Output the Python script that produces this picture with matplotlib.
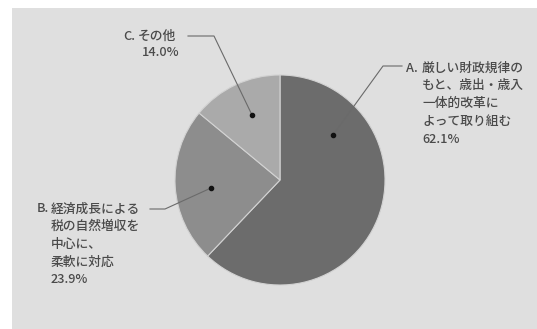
# Pie chart of the policy-stance survey result

import matplotlib.pyplot as plt
from matplotlib.patches import Rectangle

plt.rcParams['font.family'] = ['Noto Sans CJK JP', 'DejaVu Sans']

# Survey shares (%)
keys = ['A.', 'B.', 'C.']
labels = [
    ['厳しい財政規律の', 'もと、歳出・歳入', '一体的改革に', 'よって取り組む'],
    ['経済成長による', '税の自然増収を', '中心に、', '柔軟に対応'],
    ['その他'],
]
shares = [62.1, 23.9, 14.0]
colors = ['#6c6c6c', '#8d8d8d', '#aaaaaa']

fig = plt.figure(figsize=(5.37, 3.29), dpi=100)
ax = fig.add_axes([0, 0, 1, 1])

# grey panel behind the chart
ax.add_patch(Rectangle((12, 8), 530, 330, facecolor='#dfdfdf',
                       edgecolor='none', zorder=0))

# with y flipped, counterclock in data space draws clockwise on screen
ax.pie(shares, colors=colors, startangle=-90, counterclock=True,
       center=(280, 180), radius=105, frame=True,
       wedgeprops=dict(edgecolor='#d2d2d2', linewidth=0.8))
ax.set_xlim(0, 537)
ax.set_ylim(329, 0)  # pixel-like coordinates, y grows downward
ax.axis('off')

txt = dict(fontsize=9.2, color='#4a4a4a', va='center', ha='left',
           fontweight='medium')
line_col = '#6a6a6a'

# A: leader from wedge to label on the right
ax.plot([333, 383, 402], [135, 66, 66], color=line_col, lw=0.8)
ax.plot(333, 135, 'o', color='#111111', ms=3)
ax.text(406, 68, keys[0], **txt)
for i, s in enumerate(labels[0] + ['%.1f%%' % shares[0]]):
    ax.text(422, 68 + i * 17.8, s, **txt)

# B: leader to label on the left
ax.plot([211, 165, 150], [188, 209, 209], color=line_col, lw=0.8)
ax.plot(211, 188, 'o', color='#111111', ms=3)
ax.text(37, 209, keys[1], **txt)
for i, s in enumerate(labels[1] + ['%.1f%%' % shares[1]]):
    ax.text(51, 209 + i * 17.6, s, **txt)

# C: leader to label at top left
ax.plot([252, 214, 188], [115, 36, 36], color=line_col, lw=0.8)
ax.plot(252, 115, 'o', color='#111111', ms=3)
ax.text(123, 36, keys[2], **txt)
ax.text(138, 36, labels[2][0], **txt)
ax.text(142, 53, '%.1f%%' % shares[2], **txt)

fig.savefig('out.png', dpi=100, facecolor='white')
